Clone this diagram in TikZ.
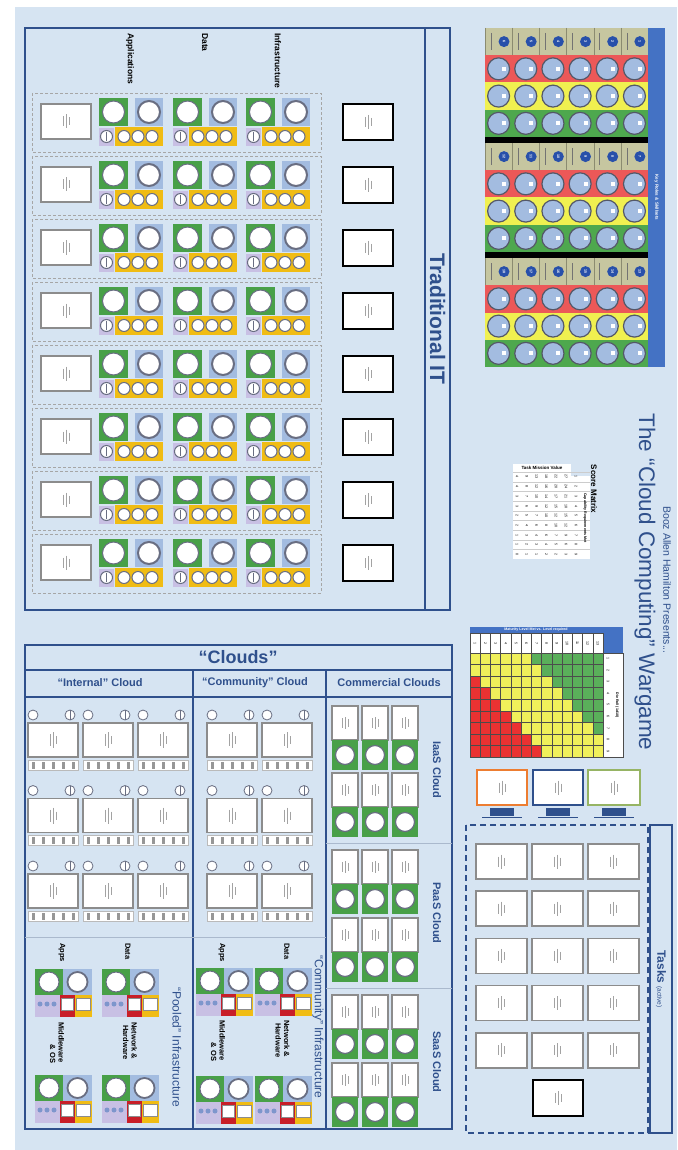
\documentclass[tikz,border=0pt]{standalone}
\usepackage{fontspec}
\setmainfont{Liberation Sans}
\definecolor{boardbg}{RGB}{214,228,242}
\definecolor{navy}{RGB}{47,80,140}
\definecolor{cardgrey}{RGB}{140,140,140}
\definecolor{grn}{RGB}{72,160,72}
\definecolor{steel}{RGB}{163,188,224}
\definecolor{lav}{RGB}{200,192,228}
\definecolor{gold}{RGB}{240,188,20}
\definecolor{tan}{RGB}{198,198,160}
\definecolor{rolered}{RGB}{236,88,88}
\definecolor{roleyel}{RGB}{240,240,80}
\definecolor{rolegrn}{RGB}{78,168,78}
\definecolor{keyblue}{RGB}{68,114,196}
\definecolor{dotblue}{RGB}{40,80,170}
\definecolor{ringgrey}{RGB}{105,110,130}
\definecolor{redbox}{RGB}{200,30,40}
\definecolor{matred}{RGB}{235,50,50}
\definecolor{matyel}{RGB}{240,240,90}
\definecolor{matgrn}{RGB}{90,175,90}
\definecolor{sepline}{RGB}{170,185,205}
\definecolor{orangeedge}{RGB}{237,125,49}
\definecolor{oliveedge}{RGB}{150,180,100}
\tikzset{
  frame/.style={draw=navy, line width=1.5pt},
  slot/.style={draw=gray!70, densely dashed, line width=0.8pt},
  card/.style={draw=cardgrey, line width=1.6pt, fill=white},
  blackcard/.style={draw=black, line width=2pt, fill=white},
  ring/.style={draw=ringgrey, line width=1pt, fill=white},
  rolering/.style={draw=ringgrey!80!black, line width=1.2pt, fill=steel},
  sidetitle/.style={text=navy, rotate=-90, inner sep=0pt},
  collabel/.style={font=\bfseries\fontsize{8.5}{10}\selectfont, rotate=-90, anchor=west, inner sep=0pt},
  infolabel/.style={font=\bfseries\fontsize{7.5}{8.5}\selectfont, rotate=-90, anchor=west, inner sep=0pt},
  heading/.style={text=navy, font=\bfseries\fontsize{11}{12}\selectfont, inner sep=0pt},
  tiny/.style={font=\fontsize{3.6}{4}\selectfont, inner sep=0pt},
  taskdash/.style={draw=navy, line width=1.8pt, dash pattern=on 6pt off 4pt},
  marks/.pic={
    \draw[cardgrey!80, line width=0.5pt] (-3,-5) -- (-3,5) (0,-7) -- (0,7) (3,-4) -- (3,4);
  },
  itgroup/.pic={
    \fill[grn] (0,0) rectangle (29,28);
    \fill[steel] (36,0) rectangle (64,28);
    \fill[lav] (0,30) rectangle (15,48);
    \fill[gold] (16,29) rectangle (64,48);
    \draw[ring] (14.5,14) circle[radius=11pt];
    \draw[ring, line width=2pt] (50,14) circle[radius=11pt];
    \draw[ring] (7.5,38.5) circle[radius=6pt];
    \draw[ringgrey, line width=0.8pt] (7.5,34) -- (7.5,43);
    \foreach \u in {25,39,53} \draw[ring] (\u,38.5) circle[radius=6pt];
  },
  cloudcell/.pic={
    \draw[ring, line width=0.8pt] (5,0) circle[radius=5pt];
    \draw[ring, line width=0.8pt] (42,0) circle[radius=5pt];
    \draw[ringgrey, line width=0.8pt] (42,-5) -- (42,5);
    \draw[card, line width=1.3pt] (0,8) rectangle (50,42);
    \draw[cardgrey!80, line width=0.5pt] (22,19) -- (22,31) (25,17) -- (25,33) (28,21) -- (28,29);
    \draw[draw=cardgrey!60, fill=white, line width=0.6pt] (0,45) rectangle (50,55);
    \foreach \k in {0,...,4} \fill[cardgrey!90] (4+10*\k,46.5) rectangle ++(2.5,7);
  },
  poolblock/.pic={
    \fill[grn] (0,0) rectangle (28,26);
    \fill[steel] (28,0) rectangle (57,26);
    \fill[lav] (0,26) rectangle (25,48);
    \fill[redbox] (25,26) rectangle (40,48);
    \fill[gold] (40,26) rectangle (57,48);
    \draw[ring] (14,13) circle[radius=10pt];
    \draw[ring, line width=1.8pt] (42.5,13) circle[radius=10pt];
    \foreach \u in {5,12,19} \fill[dotblue!60] (\u,35) circle[radius=2.5pt];
    \draw[draw=cardgrey, fill=white] (26.5,29) rectangle (38.5,41);
    \draw[draw=cardgrey, fill=white] (41.5,29) rectangle (55.5,41);
  },
  ccard/.pic={
    \draw[card, line width=1.3pt] (0,0) rectangle (26,34);
    \draw[cardgrey!80, line width=0.5pt] (10,12) -- (10,22) (13,11) -- (13,23) (16,13) -- (16,21);
    \fill[grn] (0,34) rectangle (26,64);
    \draw[ring, line width=1.2pt] (13,49) circle[radius=9.5pt];
  }
}
\begin{document}
\begin{tikzpicture}[x=1pt,y=-1pt]
\useasboundingbox (0,0) rectangle (677,1150);
\fill[boardbg] (15,7) rectangle (677,1150);

\draw[frame] (25,28) rectangle (450,610) (425,28) -- (425,610);
\node[sidetitle, font=\bfseries\fontsize{21}{24}\selectfont] (tradit) at (437.5,319) {Traditional IT};
\node[collabel] (apps) at (130,33) {Applications};
\node[collabel] (data) at (205,33) {Data};
\node[collabel] (infra) at (278,33) {Infrastructure};
\foreach \i in {0,...,7}{
  \pgfmathsetmacro\ry{93+63*\i}
  \draw[slot] (32,\ry) rectangle (321,\ry+59);
  \draw[card] (41,\ry+11) rectangle (91,\ry+46);
  \pic at (66,\ry+28.5) {marks};
  \pic at (99,\ry+5) {itgroup};
  \pic at (173,\ry+5) {itgroup};
  \pic at (246,\ry+5) {itgroup};
  \draw[blackcard] (343,\ry+11) rectangle (393,\ry+47);
  \pic at (368,\ry+29) {marks};
}

\foreach \s in {0,1,2}{
  \pgfmathsetmacro\sy{28+115*\s}
  \fill[tan] (485,\sy) rectangle (648,\sy+27.25);
  \fill[rolered] (485,\sy+27.25) rectangle (648,\sy+54.5);
  \fill[roleyel] (485,\sy+54.5) rectangle (648,\sy+81.75);
  \fill[rolegrn] (485,\sy+81.75) rectangle (648,\sy+109);
  \foreach \j in {0,...,5}{
    \pgfmathsetmacro\cx{485+27.17*\j}
    \pgfmathtruncatemacro\num{6*\s+6-\j}
    \draw[tan!70!black, line width=0.3pt] (\cx,\sy) -- (\cx,\sy+27.25);
    \draw[black!55, line width=0.7pt] (\cx+6,\sy+5) -- (\cx+6,\sy+22);
    \fill[dotblue] (\cx+19,\sy+13.6) circle[radius=5.5pt];
    \node[tiny, font=\bfseries\fontsize{3.6}{4}\selectfont, text=white, rotate=-90] (role\num) at (\cx+19,\sy+13.6) {\num};
    \foreach \b in {1,2,3}{
      \draw[rolering] (\cx+13.6,\sy+27.25*\b+13.6) circle[radius=11pt];
      \fill[white] (\cx+17,\sy+27.25*\b+11.5) rectangle ++(4,4);
    }
  }
}
\fill[black] (485,137) rectangle (648,143);
\fill[black] (485,252) rectangle (648,258);
\fill[keyblue] (648,28) rectangle (665,367);
\node[tiny, font=\bfseries\fontsize{4.5}{5}\selectfont, text=white, rotate=-90] (keyroles) at (656.5,197.5) {Key Roles \& Skillsets};

\node[sidetitle, font=\fontsize{22.5}{26}\selectfont] (title) at (645,582) {The “Cloud Computing” Wargame};
\node[sidetitle, font=\fontsize{10.5}{12}\selectfont] (presents) at (667,580) {Booz Allen Hamilton Presents...};

\fill[white] (513,464) rectangle (571,559);
\fill[white] (571,476) rectangle (590,559);
\node[tiny, font=\bfseries\fontsize{4.5}{5}\selectfont] (taskvalue) at (542,468) {Task Mission Value};
\foreach \r in {1,...,9}{
  \draw[gray!40, line width=0.3pt] (513,462.3+9.7*\r) -- (590,462.3+9.7*\r);
  \node[tiny, rotate=-90] (idx\r) at (576,467.2+9.7*\r) {\r};
  \foreach \c in {1,...,6}{
    \pgfmathtruncatemacro\v{\c*(10-\r)/2}
    \node[tiny, rotate=-90] (sc\r\c) at (517+9.8*\c-9.8,467.2+9.7*\r) {\v};
  }
}
\node[tiny, font=\bfseries\fontsize{3.6}{4}\selectfont, rotate=-90] (capmet) at (585,518) {Capability Requirements Met};
\node[sidetitle, text=black, font=\bfseries\fontsize{8}{9}\selectfont] (score) at (594,489) {Score Matrix};

\fill[keyblue] (470,627) rectangle (623,633);
\fill[keyblue] (603,627) rectangle (623,653);
\node[tiny, font=\bfseries\fontsize{3.6}{4}\selectfont, text=white] (maturity) at (536,630) {Maturity Level Met vs. Level required};
\filldraw[fill=white, draw=black!70, line width=0.4pt] (603,653) rectangle (623,757);
\node[tiny, font=\bfseries\fontsize{3.6}{4}\selectfont, rotate=-90] (dieroll) at (617,705) {Die Roll (1d10)};
\foreach \c in {1,...,13}{
  \filldraw[fill=white, draw=black!70, line width=0.4pt] (470+10.23*\c-10.23,633) rectangle ++(10.23,20);
  \node[tiny, rotate=-90] (ml\c) at (475.1+10.23*\c-10.23,643) {\c};
}
\foreach \r in {1,...,9}{
  \node[tiny, rotate=-90] (roll\r) at (608,647.2+11.55*\r) {\r};
  \foreach \c in {1,...,13}{
    \def\cc{matyel}
    \ifnum\c>\numexpr\r+5\relax\def\cc{matgrn}\fi
    \ifnum\r>\numexpr\c+1\relax\def\cc{matred}\fi
    \filldraw[fill=\cc, draw=black!70, line width=0.4pt] (470+10.23*\c-10.23,653+11.55*\r-11.55) rectangle ++(10.23,11.55);
  }
}

\draw[frame] (25,645) rectangle (452,1129);
\draw[frame] (25,670) -- (452,670) (25,697) -- (452,697) (193,670) -- (193,1129) (326,670) -- (326,1129);
\node[text=navy, font=\bfseries\fontsize{18}{20}\selectfont, inner sep=0pt] (clouds) at (238,657.5) {“Clouds”};
\node[heading] (internal) at (100,683) {“Internal” Cloud};
\node[heading] (community) at (255,683) {“Community” Cloud};
\node[heading] (commercial) at (389,683) {Commercial Clouds};
\foreach \k in {0,1,2} \foreach \m in {0,1,2} \pic at (28+55*\k,715+75.5*\m) {cloudcell};
\foreach \k in {0,1} \foreach \m in {0,1,2} \pic at (207+55*\k,715+75.5*\m) {cloudcell};
\draw[sepline, line width=0.8pt] (25,937) -- (326,937) (326,843) -- (452,843) (326,988) -- (452,988);

\node[sidetitle, font=\fontsize{12}{14}\selectfont] (pooled) at (177,1047) {“Pooled” Infrastructure};
\node[infolabel] (papps) at (62,943) {Apps};
\node[infolabel] (pdata) at (128,943) {Data};
\node[infolabel, align=right] (pmw) at (57,1022) {Middleware\\\& OS};
\node[infolabel, align=right] (pnet) at (130,1022) {Network \&\\Hardware};
\pic at (35,969) {poolblock};
\pic at (102,969) {poolblock};
\pic at (35,1075) {poolblock};
\pic at (102,1075) {poolblock};
\node[sidetitle, font=\fontsize{12}{14}\selectfont] (comminfra) at (318,1027) {“Community” Infrastructure};
\node[infolabel] (capps) at (222,943) {Apps};
\node[infolabel] (cdata) at (287,943) {Data};
\node[infolabel, align=right] (cmw) at (218,1020) {Middleware\\\& OS};
\node[infolabel, align=right] (cnet) at (282.5,1020) {Network \&\\Hardware};
\pic at (196,968) {poolblock};
\pic at (255,968) {poolblock};
\pic at (196,1076) {poolblock};
\pic at (255,1076) {poolblock};

\foreach \gy in {706,773,850,918,995,1063} \foreach \gx in {332,362,392} \pic at (\gx,\gy) {ccard};
\node[sidetitle, font=\bfseries\fontsize{11}{12}\selectfont] (iaas) at (437,770) {IaaS Cloud};
\node[sidetitle, font=\bfseries\fontsize{11}{12}\selectfont] (paas) at (437,913) {PaaS Cloud};
\node[sidetitle, font=\bfseries\fontsize{11}{12}\selectfont] (saas) at (437,1062) {SaaS Cloud};

\draw[fill=white, draw=orangeedge, line width=2pt] (477,770) rectangle (527,805);
\draw[fill=white, draw=navy, line width=2pt] (533,770) rectangle (583,805);
\draw[fill=white, draw=oliveedge, line width=2pt] (588,770) rectangle (640,805);
\foreach \fx in {502,558,614}{
  \pic at (\fx,787.5) {marks};
  \fill[navy] (\fx-12,808) rectangle (\fx+12,816);
  \draw[navy, line width=0.8pt] (\fx-20,817) -- (\fx+20,817);
}
\draw[taskdash] (466,825) rectangle (648,1133);
\draw[frame] (650,825) rectangle (672,1133);
\node[sidetitle] (tasks) at (661,979) {{\bfseries\fontsize{12}{14}\selectfont Tasks} {\fontsize{6.5}{7}\selectfont (active)}};
\foreach \c in {0,1,2} \foreach \r in {0,...,4}{
  \draw[card] (476+56*\c,844+47.2*\r) rectangle ++(51,35);
  \pic at (501.5+56*\c,861.5+47.2*\r) {marks};
}
\draw[blackcard] (533,1080) rectangle (583,1116);
\pic at (558,1098) {marks};
\end{tikzpicture}
\end{document}
